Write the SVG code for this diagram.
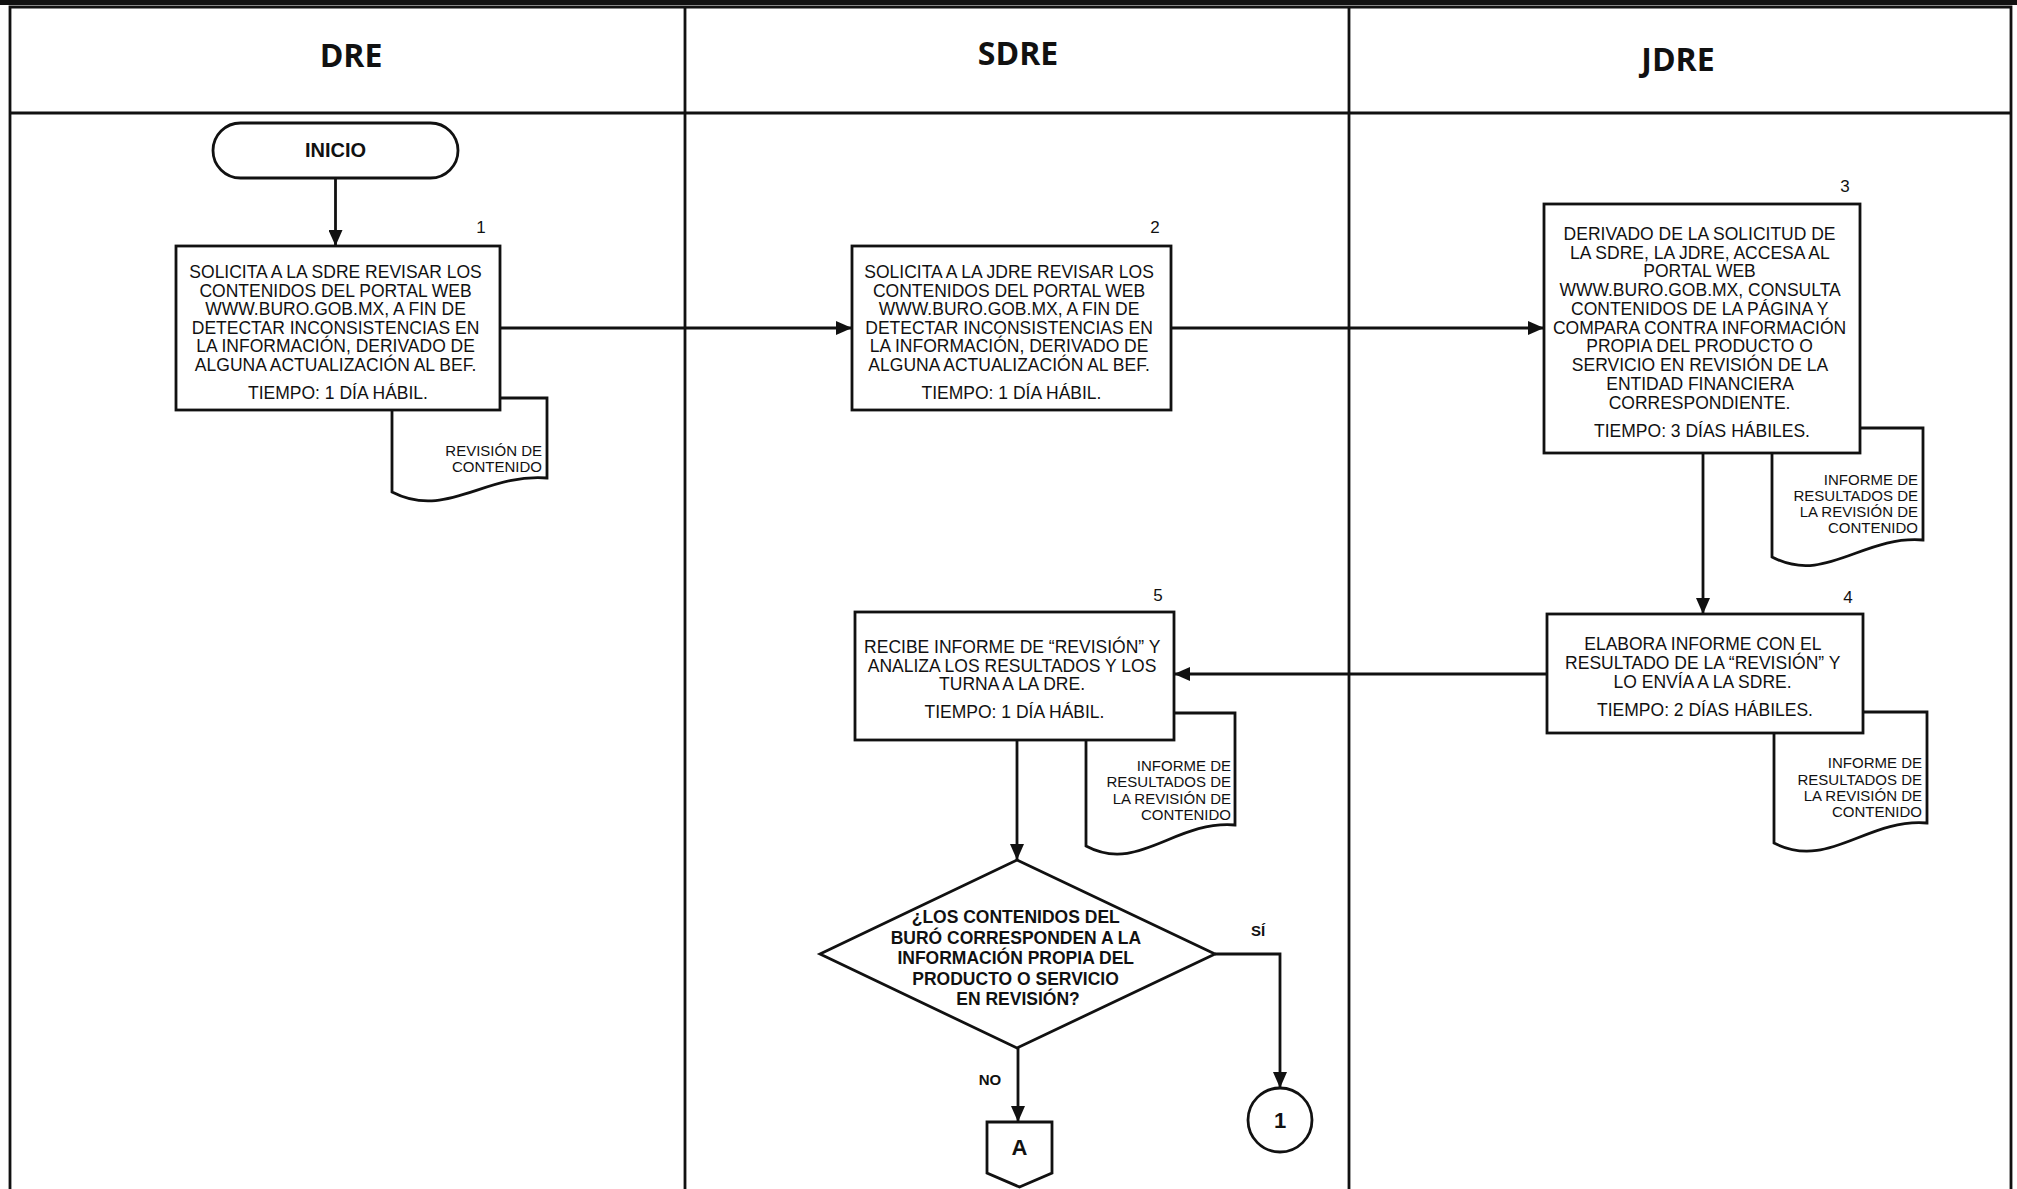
<svg xmlns="http://www.w3.org/2000/svg" width="2017" height="1189" viewBox="0 0 2017 1189">
<defs>
<style>
.ln{stroke:#111;stroke-width:2.8;fill:none}
.shape{stroke:#111;stroke-width:2.8;fill:#fff}
.hd{font-family:"Open Sans","Liberation Sans",sans-serif;font-weight:700;font-size:32px;fill:#111;text-anchor:middle}
.tx{font-family:"Liberation Sans",Arial,sans-serif;font-size:17.5px;fill:#111;text-anchor:middle}
.dt{font-family:"Liberation Sans",Arial,sans-serif;font-size:15px;fill:#111;text-anchor:end}
.bd{font-family:"Liberation Sans",Arial,sans-serif;font-weight:700;fill:#111;text-anchor:middle}
.num{font-family:"Liberation Sans",Arial,sans-serif;font-size:17px;fill:#111;text-anchor:middle}
</style>
<marker id="ah" viewBox="0 0 16 14" refX="16" refY="7" markerWidth="16" markerHeight="14" markerUnits="userSpaceOnUse" orient="auto">
<path d="M0,0 L16,7 L0,14 Z" fill="#111"/>
</marker>
</defs>
<rect width="2017" height="1189" fill="#fff"/>
<g id="frame">
<rect x="0" y="0" width="2017" height="5" fill="#111"/>
<path class="ln" d="M10,1189 V7 H2011 V1189"/>
<path class="ln" d="M10,113 H2011"/>
<path class="ln" d="M685,7 V1189 M1349,7 V1189"/>
<text class="hd" x="351" y="67">DRE</text>
<text class="hd" x="1018" y="65">SDRE</text>
<text class="hd" x="1678" y="71">JDRE</text>
</g>
<g id="connectors">
<path class="ln" marker-end="url(#ah)" d="M335.5,178 V246"/>
<path class="ln" marker-end="url(#ah)" d="M500,328 H852"/>
<path class="ln" marker-end="url(#ah)" d="M1171,328 H1544"/>
<path class="ln" marker-end="url(#ah)" d="M1703,453 V614"/>
<path class="ln" marker-end="url(#ah)" d="M1547,674 H1174"/>
<path class="ln" marker-end="url(#ah)" d="M1017,740 V860"/>
<path class="ln" marker-end="url(#ah)" d="M1215,954 H1280 V1088"/>
<path class="ln" marker-end="url(#ah)" d="M1018,1048 V1122"/>
<text class="bd" x="1258" y="936" font-size="15">SÍ</text>
<text class="bd" x="990" y="1085" font-size="15">NO</text>
</g>
<g id="inicio">
<rect class="shape" x="213" y="123" width="245" height="55" rx="27.5"/>
<text class="bd" x="335.5" y="157" font-size="20">INICIO</text>
</g>
<g id="doc1">
<path class="shape" d="M392,492 C446,520 485,473 547,478 V398 H392 Z"/>
<text class="dt"><tspan x="542" y="456">REVISIÓN DE</tspan><tspan x="542" y="472">CONTENIDO</tspan></text>
</g>
<g id="step1">
<rect class="shape" x="176" y="246" width="324" height="164"/>
<text class="num" x="481" y="233">1</text>
<text class="tx">
<tspan x="338" y="278">SOLICITA A LA SDRE REVISAR LOS</tspan>
<tspan x="338" y="296.5">CONTENIDOS DEL PORTAL WEB</tspan>
<tspan x="338" y="315">WWW.BURO.GOB.MX, A FIN DE</tspan>
<tspan x="338" y="333.5">DETECTAR INCONSISTENCIAS EN</tspan>
<tspan x="338" y="352">LA INFORMACIÓN, DERIVADO DE</tspan>
<tspan x="338" y="370.5">ALGUNA ACTUALIZACIÓN AL BEF.</tspan>
<tspan x="338" y="399">TIEMPO: 1 DÍA HÁBIL.</tspan>
</text>
</g>
<g id="step2">
<rect class="shape" x="852" y="246" width="319" height="164"/>
<text class="num" x="1155" y="233">2</text>
<text class="tx">
<tspan x="1011.5" y="278">SOLICITA A LA JDRE REVISAR LOS</tspan>
<tspan x="1011.5" y="296.5">CONTENIDOS DEL PORTAL WEB</tspan>
<tspan x="1011.5" y="315">WWW.BURO.GOB.MX, A FIN DE</tspan>
<tspan x="1011.5" y="333.5">DETECTAR INCONSISTENCIAS EN</tspan>
<tspan x="1011.5" y="352">LA INFORMACIÓN, DERIVADO DE</tspan>
<tspan x="1011.5" y="370.5">ALGUNA ACTUALIZACIÓN AL BEF.</tspan>
<tspan x="1011.5" y="399">TIEMPO: 1 DÍA HÁBIL.</tspan>
</text>
</g>
<g id="doc3">
<path class="shape" d="M1772,557 C1825,585 1863,535 1923,540 V428 H1772 Z"/>
<text class="dt"><tspan x="1918" y="485">INFORME DE</tspan><tspan x="1918" y="501">RESULTADOS DE</tspan><tspan x="1918" y="517">LA REVISIÓN DE</tspan><tspan x="1918" y="533">CONTENIDO</tspan></text>
</g>
<g id="step3">
<rect class="shape" x="1544" y="204" width="316" height="249"/>
<text class="num" x="1845" y="192">3</text>
<text class="tx">
<tspan x="1702" y="239.5">DERIVADO DE LA SOLICITUD DE</tspan>
<tspan x="1702" y="258.5">LA SDRE, LA JDRE, ACCESA AL</tspan>
<tspan x="1702" y="277">PORTAL WEB</tspan>
<tspan x="1702" y="296">WWW.BURO.GOB.MX, CONSULTA</tspan>
<tspan x="1702" y="315">CONTENIDOS DE LA PÁGINA Y</tspan>
<tspan x="1702" y="333.5">COMPARA CONTRA INFORMACIÓN</tspan>
<tspan x="1702" y="352">PROPIA DEL PRODUCTO O</tspan>
<tspan x="1702" y="371">SERVICIO EN REVISIÓN DE LA</tspan>
<tspan x="1702" y="390">ENTIDAD FINANCIERA</tspan>
<tspan x="1702" y="409">CORRESPONDIENTE.</tspan>
<tspan x="1702" y="437">TIEMPO: 3 DÍAS HÁBILES.</tspan>
</text>
</g>
<g id="doc4">
<path class="shape" d="M1774,843 C1828,871 1866,818 1927,823 V712 H1774 Z"/>
<text class="dt"><tspan x="1922" y="768">INFORME DE</tspan><tspan x="1922" y="785">RESULTADOS DE</tspan><tspan x="1922" y="801">LA REVISIÓN DE</tspan><tspan x="1922" y="817">CONTENIDO</tspan></text>
</g>
<g id="step4">
<rect class="shape" x="1547" y="614" width="316" height="119"/>
<text class="num" x="1848" y="603">4</text>
<text class="tx">
<tspan x="1705" y="650">ELABORA INFORME CON EL</tspan>
<tspan x="1705" y="669">RESULTADO DE LA “REVISIÓN” Y</tspan>
<tspan x="1705" y="688">LO ENVÍA A LA SDRE.</tspan>
<tspan x="1705" y="716">TIEMPO: 2 DÍAS HÁBILES.</tspan>
</text>
</g>
<g id="doc5">
<path class="shape" d="M1086,846 C1138,874 1175,820 1235,825 V713 H1086 Z"/>
<text class="dt"><tspan x="1231" y="771">INFORME DE</tspan><tspan x="1231" y="787">RESULTADOS DE</tspan><tspan x="1231" y="804">LA REVISIÓN DE</tspan><tspan x="1231" y="820">CONTENIDO</tspan></text>
</g>
<g id="step5">
<rect class="shape" x="855" y="612" width="319" height="128"/>
<text class="num" x="1158" y="601">5</text>
<text class="tx">
<tspan x="1014.5" y="653">RECIBE INFORME DE “REVISIÓN” Y</tspan>
<tspan x="1014.5" y="671.5">ANALIZA LOS RESULTADOS Y LOS</tspan>
<tspan x="1014.5" y="690">TURNA A LA DRE.</tspan>
<tspan x="1014.5" y="718">TIEMPO: 1 DÍA HÁBIL.</tspan>
</text>
</g>
<g id="decision">
<path class="shape" d="M1017,860 L1215,954 L1017,1048 L820,954 Z"/>
<text class="bd" font-size="17.5">
<tspan x="1018" y="923">¿LOS CONTENIDOS DEL</tspan>
<tspan x="1018" y="943.5">BURÓ CORRESPONDEN A LA</tspan>
<tspan x="1018" y="964">INFORMACIÓN PROPIA DEL</tspan>
<tspan x="1018" y="984.5">PRODUCTO O SERVICIO</tspan>
<tspan x="1018" y="1005">EN REVISIÓN?</tspan>
</text>
</g>
<g id="connector1">
<circle class="shape" cx="1280" cy="1120" r="32"/>
<text class="bd" x="1280" y="1128" font-size="22">1</text>
</g>
<g id="offpageA">
<path class="shape" d="M987,1122 H1052 V1173 L1019.5,1187 L987,1173 Z"/>
<text class="bd" x="1019.5" y="1155" font-size="22">A</text>
</g>
</svg>
